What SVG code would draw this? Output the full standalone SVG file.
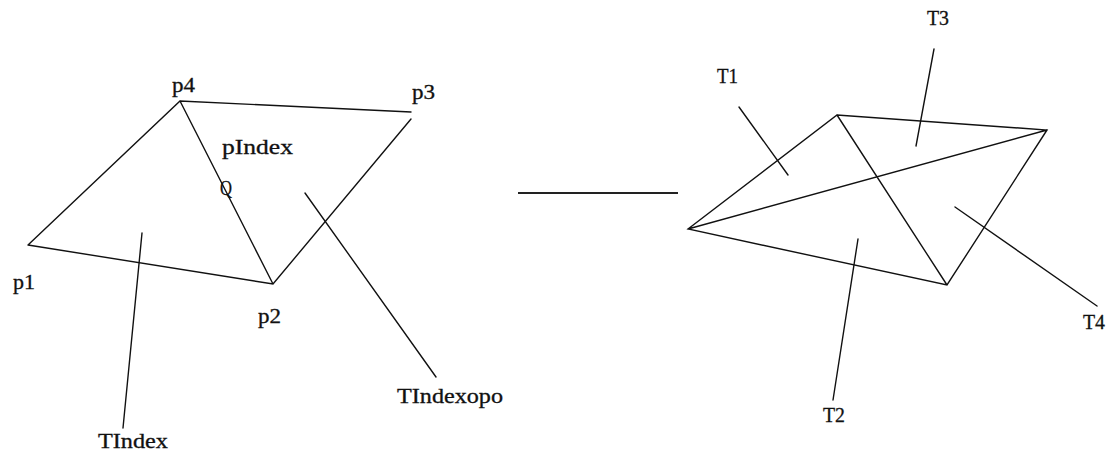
<svg xmlns="http://www.w3.org/2000/svg" width="1112" height="453" viewBox="0 0 1112 453">
<style>
.ln{stroke:#111;stroke-width:1.4;fill:none;stroke-linecap:round}
.sep{stroke:#222;stroke-width:2;fill:none}
text{font-family:"Liberation Serif","DejaVu Serif",serif;font-size:20px;fill:#111;stroke:#111;stroke-width:0.3}
</style>
<rect width="1112" height="453" fill="#fff"/>
<g id="left-quad">
<path class="ln" d="M28,245 L180,101 L411,112 M411,119 L273,284 L28,245 M180,101 L273,284"/>
</g>
<g id="right-quad">
<path class="ln" d="M688,229 L837,115 L1047,130 L947,285 Z M688,229 L1047,130 M837,115 L947,285"/>
</g>
<g id="connectors">
<line class="ln" x1="142" y1="233" x2="123" y2="428"/>
<line class="ln" x1="305" y1="193" x2="436" y2="377"/>
<line class="sep" x1="518" y1="193" x2="678" y2="193"/>
<line class="ln" x1="739" y1="107" x2="788" y2="175"/>
<line class="ln" x1="934" y1="49" x2="916" y2="146"/>
<line class="ln" x1="858" y1="239" x2="833" y2="400"/>
<line class="ln" x1="955" y1="207" x2="1097" y2="306"/>
</g>
<g id="labels">
<text x="172" y="92" textLength="23" lengthAdjust="spacingAndGlyphs">p4</text>
<text x="412" y="99" textLength="23" lengthAdjust="spacingAndGlyphs">p3</text>
<text x="222" y="154" textLength="71" lengthAdjust="spacingAndGlyphs">pIndex</text>
<text x="220" y="195" textLength="12" lengthAdjust="spacingAndGlyphs">Q</text>
<text x="13" y="289" textLength="22" lengthAdjust="spacingAndGlyphs">p1</text>
<text x="258" y="323" textLength="23" lengthAdjust="spacingAndGlyphs">p2</text>
<text x="98" y="448" textLength="70" lengthAdjust="spacingAndGlyphs">TIndex</text>
<text x="397" y="403" textLength="106" lengthAdjust="spacingAndGlyphs">TIndexopo</text>
<text x="717" y="83" textLength="21" lengthAdjust="spacingAndGlyphs">T1</text>
<text x="927" y="25" textLength="22" lengthAdjust="spacingAndGlyphs">T3</text>
<text x="823" y="422" textLength="22" lengthAdjust="spacingAndGlyphs">T2</text>
<text x="1083" y="329" textLength="22" lengthAdjust="spacingAndGlyphs">T4</text>
</g>
</svg>
